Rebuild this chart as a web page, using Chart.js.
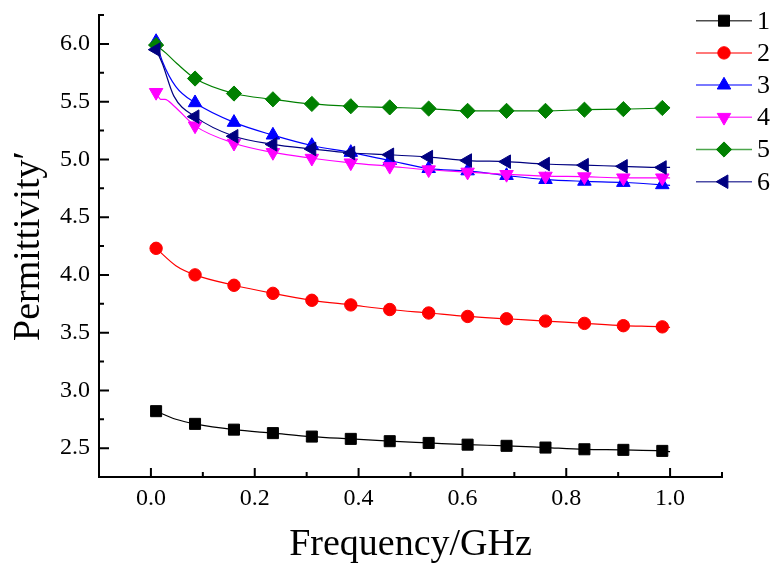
<!DOCTYPE html>
<html><head><meta charset="utf-8">
<script src="https://cdn.jsdelivr.net/npm/chart.js@4.4.1/dist/chart.umd.min.js"></script>
<style>html,body{margin:0;padding:0;background:#fff}#wrap{width:783px;height:569px;position:relative}</style>
</head><body><div id="wrap"><canvas id="c"></canvas></div>
<script>
// Frequency (GHz) at which markers are drawn
const freq = [0.01,0.085,0.16,0.235,0.31,0.385,0.46,0.535,0.61,0.685,0.76,0.835,0.91,0.985];
// Permittivity' for each sample
const s1 = [2.82,2.71,2.66,2.63,2.60,2.58,2.56,2.545,2.53,2.52,2.505,2.49,2.485,2.476];
const s2 = [4.23,4.00,3.91,3.84,3.78,3.74,3.70,3.67,3.64,3.62,3.60,3.58,3.56,3.55];
const s3 = [6.02,5.49,5.32,5.21,5.12,5.06,4.99,4.92,4.90,4.86,4.825,4.81,4.80,4.78];
const s4 = [5.58,5.29,5.14,5.06,5.01,4.97,4.94,4.91,4.89,4.87,4.855,4.85,4.84,4.84];
const s5 = [5.99,5.70,5.57,5.52,5.48,5.46,5.45,5.44,5.42,5.42,5.42,5.43,5.435,5.445];
const s6 = [5.95,5.37,5.20,5.13,5.09,5.055,5.04,5.02,4.99,4.98,4.96,4.95,4.94,4.93];
// extra readings of the continuous curves (no marker)
const extra1 = [[0.048,2.75],[1.0,2.47]];
const extra2 = [[0.048,4.08],[1.0,3.545]];
const extra3 = [[0.022,5.85],[0.048,5.63],[1.0,4.775]];
const extra4 = [[0.019,5.52],[0.027,5.52],[0.045,5.46],[1.0,4.84]];
const extra5 = [[0.029,5.92],[0.05,5.83],[1.0,5.45]];
const extra6 = [[0.022,5.83],[0.044,5.55],[1.0,4.93]];
const names = ['1','2','3','4','5','6'];
const xTickLabels = [0.0,0.2,0.4,0.6,0.8,1.0];
const xMinorTicks = [0.1,0.3,0.5,0.7,0.9,1.1];
const yTickLabels = [2.5,3.0,3.5,4.0,4.5,5.0,5.5,6.0];
const yMinorTicks = [2.75,3.25,3.75,4.25,4.75,5.25,5.75,6.25];

const colors = ['#000000','#ff0000','#0000ff','#ff00ff','#008000','#000080'];
const shapes = ['rect','circle','triangle','triangle','rectRot','triangle'];
const rots = [0,0,0,180,0,270];
const radii = [7.8,6.2,7.8,7.8,7.6,7.8];
const FONT = "'Liberation Serif', 'Times New Roman', serif";
Chart.defaults.font.family = FONT;
Chart.defaults.color = '#000';

function build(vals, extra){
  const pts = freq.map((x,i)=>({x:x, y:vals[i], m:true}));
  extra.forEach(p=>pts.push({x:p[0], y:p[1], m:false}));
  pts.sort((a,b)=>a.x-b.x);
  return pts;
}
const series = [[s1,extra1],[s2,extra2],[s3,extra3],[s4,extra4],[s5,extra5],[s6,extra6]];
const datasets = series.map((s,i)=>({
  label: names[i],
  data: build(s[0], s[1]),
  borderColor: colors[i],
  backgroundColor: colors[i],
  borderWidth: 1.2,
  pointStyle: shapes[i],
  pointRotation: rots[i],
  pointRadius: ctx => (ctx.raw && ctx.raw.m) ? radii[i] : 0,
  pointHoverRadius: ctx => (ctx.raw && ctx.raw.m) ? radii[i] : 0,
  pointBorderWidth: 1,
  pointBorderColor: colors[i],
  pointBackgroundColor: colors[i],
  cubicInterpolationMode: 'monotone',
  order: 5 - i,
  clip: false
}));

function marker(ctx, shape, rot, r, x, y, color){
  ctx.save();
  ctx.fillStyle = color; ctx.strokeStyle = color; ctx.lineWidth = 1;
  ctx.translate(x,y); ctx.rotate(rot*Math.PI/180);
  ctx.beginPath();
  if (shape==='rect'){ const s=Math.SQRT1_2*r; ctx.rect(-s,-s,2*s,2*s); }
  else if (shape==='circle'){ ctx.arc(0,0,r,0,Math.PI*2); }
  else if (shape==='rectRot'){ ctx.moveTo(-r,0); ctx.lineTo(0,-r); ctx.lineTo(r,0); ctx.lineTo(0,r); ctx.closePath(); }
  else { for(let k=0;k<3;k++){ const a=k*2*Math.PI/3; const px=Math.sin(a)*r, py=-Math.cos(a)*r; k?ctx.lineTo(px,py):ctx.moveTo(px,py);} ctx.closePath(); }
  ctx.fill(); ctx.stroke();
  ctx.restore();
}

const deco = {
  id:'deco',
  afterDraw(chart){
    const ctx = chart.ctx, xs = chart.scales.x, ys = chart.scales.y;
    const a = chart.chartArea;
    ctx.save();
    ctx.strokeStyle = '#000'; ctx.lineWidth = 2;
    ctx.beginPath();
    xTickLabels.forEach(v=>{ const p=xs.getPixelForValue(v); ctx.moveTo(p,a.bottom); ctx.lineTo(p,a.bottom-9); });
    xMinorTicks.forEach(v=>{ const p=xs.getPixelForValue(v); ctx.moveTo(p,a.bottom); ctx.lineTo(p,a.bottom-5); });
    yTickLabels.forEach(v=>{ const p=ys.getPixelForValue(v); ctx.moveTo(a.left,p); ctx.lineTo(a.left+10,p); });
    yMinorTicks.forEach(v=>{ const p=ys.getPixelForValue(v); ctx.moveTo(a.left,p); ctx.lineTo(a.left+5,p); });
    ctx.stroke();
    // legend
    ctx.font = '26px ' + FONT;
    ctx.textBaseline = 'middle'; ctx.textAlign = 'left';
    names.forEach((n,i)=>{
      const y = 20.7 + i*32.2;
      ctx.save(); ctx.globalAlpha = 0.7; ctx.strokeStyle = colors[i]; ctx.lineWidth = 1.5;
      ctx.beginPath(); ctx.moveTo(696,y); ctx.lineTo(752,y); ctx.stroke(); ctx.restore();
      marker(ctx, shapes[i], rots[i], radii[i], 724, y, colors[i]);
      ctx.fillStyle = '#000';
      ctx.fillText(n, 757, y+1);
    });
    ctx.restore();
  }
};

new Chart(document.getElementById('c'), {
  type:'line',
  data:{datasets},
  options:{
    responsive:true, maintainAspectRatio:false, animation:false,
    layout:{padding:{top:15,right:61,left:0,bottom:0}},
    plugins:{legend:{display:false}, tooltip:{enabled:false}},
    scales:{
      x:{type:'linear', min:-0.1, max:1.1,
        afterBuildTicks: s=>{ s.ticks = xTickLabels.map(v=>({value:v})); },
        afterFit: s=>{ s.height = 92; s.paddingLeft = 0; s.paddingRight = 0; },
        grid:{display:false, drawTicks:false},
        border:{display:true, color:'#000', width:2},
        ticks:{color:'#000', padding:7, font:{family:FONT, size:24}, callback:v=>Number(v).toFixed(1), maxRotation:0, autoSkip:false},
        title:{display:true, text:'Frequency/GHz', color:'#000', font:{family:FONT, size:38}, padding:{top:0,bottom:1}}
      },
      y:{type:'linear', min:2.25, max:6.25,
        afterBuildTicks: s=>{ s.ticks = yTickLabels.map(v=>({value:v})); },
        afterFit: s=>{ s.width = 99; s.paddingTop = 0; s.paddingBottom = 0; },
        grid:{display:false, drawTicks:false},
        border:{display:true, color:'#000', width:2},
        ticks:{color:'#000', padding:9, font:{family:FONT, size:24}, callback:v=>Number(v).toFixed(1), autoSkip:false},
        title:{display:true, text:'Permittivity\u2032', color:'#000', font:{family:FONT, size:38}, padding:{top:6,bottom:0}}
      }
    }
  },
  plugins:[deco]
});
</script></body></html>
